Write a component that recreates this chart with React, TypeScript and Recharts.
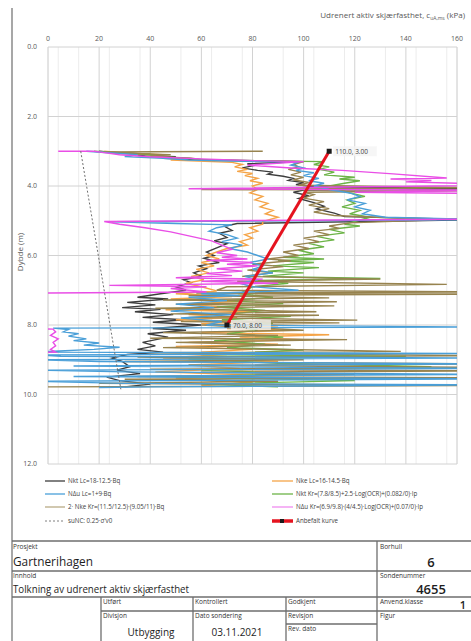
import React from 'react';
import { LineChart, Line, XAxis, YAxis, CartesianGrid } from 'recharts';

type P = [number, number];

const xTicks = [0, 20, 40, 60, 80, 100, 120, 140, 160];
const yTicks = [0, 2, 4, 6, 8, 10, 12];
const minorStep = 4;

// [value kPa, depth m]
const nktLc: P[] = [[20,3.0],[28,3.05],[40,3.08],[35,3.12],[50,3.16],[45,3.2],[58,3.24],[100,3.3],[78,3.36],[80,3.42],[76,3.48],[82,3.55],[88,3.6],[86,3.66],[92,3.72],[96,3.78],[94,3.84],[100,3.9],[97,3.96],[104,4.02],[170,4.08],[100,4.12],[96,4.18],[102,4.28],[98,4.36],[104,4.48],[108,4.58],[105,4.66],[112,4.78],[116,4.88],[170,4.97],[74,5.08],[69,5.16],[72,5.28],[67,5.36],[70,5.48],[65,5.58],[70,5.66],[66,5.78],[62,5.9],[65,6.0],[61,6.08],[67,6.2],[59,6.3],[62,6.38],[57,6.5],[60,6.6],[53,6.7],[56,6.78],[50,6.9],[54,7.0],[44,7.1],[35,7.2],[47,7.25],[31,7.35],[42,7.42],[29,7.5],[44,7.55],[34,7.62],[49,7.7],[37,7.78],[53,7.85],[41,7.92],[60,8.0],[41,8.1],[54,8.15],[39,8.25],[47,8.35],[37,8.5],[42,8.6],[35,8.7],[45,8.78],[31,8.85],[25,8.95],[29,9.05],[32,9.2],[27,9.3],[36,9.4],[23,9.5],[28,9.6],[40,9.7],[30,9.78]];

const nkeLc: P[] = [[22,3.0],[30,3.05],[45,3.1],[38,3.15],[52,3.2],[48,3.25],[72,3.32],[76,3.38],[73,3.45],[78,3.52],[74,3.58],[80,3.64],[77,3.7],[82,3.78],[79,3.85],[84,3.92],[80,4.0],[82,4.1],[79,4.2],[84,4.3],[81,4.4],[86,4.5],[83,4.6],[88,4.7],[85,4.8],[90,4.9],[84,5.02],[84,5.1],[79,5.2],[82,5.3],[77,5.4],[80,5.5],[75,5.6],[78,5.7],[70,5.8],[66,5.9],[62,6.0],[67,6.1],[60,6.2],[65,6.3],[58,6.4],[63,6.5],[56,6.6],[61,6.7],[54,6.8],[60,6.9],[66,7.02],[50,7.1],[72,7.18],[48,7.25],[76,7.32],[52,7.4],[70,7.48],[46,7.56],[80,7.62],[55,7.7],[74,7.78],[50,7.85],[85,7.9],[60,7.96],[90,8.02],[70,8.1],[95,8.15],[60,8.22],[110,8.28],[75,8.35],[100,8.42],[55,8.5],[90,8.55],[50,8.62],[80,8.7],[60,8.78],[70,8.85],[45,8.95],[90,9.05],[55,9.15],[75,9.25],[42,9.35],[85,9.45],[50,9.55],[80,9.65],[60,9.75]];

const nduLc: P[] = [[15,3.0],[25,3.05],[35,3.1],[30,3.15],[45,3.2],[55,3.25],[98,3.32],[95,3.4],[100,3.48],[97,3.55],[104,3.62],[100,3.7],[106,3.78],[102,3.85],[108,3.92],[104,4.0],[110,4.1],[118,4.2],[122,4.3],[117,4.4],[124,4.5],[120,4.6],[126,4.7],[123,4.8],[132,4.9],[170,4.97],[25,5.03],[50,5.08],[72,5.12],[66,5.2],[63,5.3],[70,5.4],[74,5.5],[68,5.6],[76,5.7],[71,5.8],[78,5.9],[82,6.0],[86,6.1],[79,6.2],[84,6.3],[80,6.4],[88,6.5],[77,6.6],[82,6.7],[75,6.8],[80,6.9],[98,7.0],[60,7.1],[75,7.15],[55,7.2],[70,7.3],[50,7.4],[65,7.5],[48,7.6],[72,7.7],[52,7.8],[68,7.9],[62,8.0],[170,8.06],[2,8.09],[8,8.13],[6,8.2],[12,8.25],[8,8.32],[15,8.4],[10,8.45],[20,8.52],[14,8.58],[28,8.64],[18,8.7],[-5,8.78],[170,8.82],[-5,8.86],[5,8.9],[170,8.95],[-5,9.0],[20,9.05],[170,9.12],[10,9.18],[170,9.25],[0,9.3],[30,9.35],[170,9.42],[10,9.48],[170,9.55],[-5,9.62],[30,9.68],[170,9.72],[40,9.78],[20,9.8]];

const nktKr: P[] = [[18,3.0],[30,3.05],[42,3.1],[38,3.15],[55,3.2],[60,3.25],[108,3.3],[104,3.38],[110,3.45],[106,3.52],[112,3.6],[108,3.68],[120,3.75],[114,3.8],[122,3.85],[116,3.92],[110,4.0],[114,4.1],[118,4.2],[124,4.3],[117,4.4],[120,4.5],[115,4.6],[122,4.7],[118,4.8],[126,4.9],[116,5.1],[122,5.15],[110,5.25],[116,5.35],[105,5.45],[112,5.55],[102,5.65],[108,5.75],[98,5.85],[104,5.95],[92,6.05],[108,6.1],[90,6.15],[104,6.2],[88,6.3],[106,6.35],[86,6.45],[100,6.5],[84,6.6],[130,6.66],[82,6.72],[94,6.8],[80,6.9],[75,7.1],[88,7.2],[70,7.3],[92,7.38],[66,7.48],[85,7.58],[72,7.68],[95,7.75],[68,7.85],[88,7.95],[75,8.05],[82,8.15],[70,8.25],[92,8.35],[65,8.45],[85,8.55],[70,8.65],[100,8.72],[60,8.85],[140,8.9],[55,8.98],[90,9.1],[150,9.2],[60,9.3],[100,9.4],[50,9.5],[120,9.6],[60,9.7],[90,9.78]];

const nkeKr: P[] = [[84,3.0],[22,3.02],[32,3.06],[48,3.1],[40,3.14],[56,3.2],[62,3.26],[100,3.3],[96,3.38],[98,3.45],[94,3.52],[99,3.6],[95,3.68],[100,3.75],[96,3.82],[102,3.9],[98,3.98],[170,4.05],[60,4.1],[170,4.13],[100,4.18],[104,4.25],[100,4.35],[108,4.45],[102,4.55],[110,4.65],[104,4.75],[112,4.85],[152,4.97],[118,5.06],[110,5.15],[114,5.22],[104,5.3],[110,5.4],[100,5.5],[106,5.6],[96,5.7],[102,5.8],[92,5.9],[98,6.0],[86,6.1],[95,6.15],[80,6.25],[92,6.32],[78,6.42],[88,6.5],[76,6.6],[130,6.68],[74,6.74],[156,6.83],[70,6.9],[66,7.0],[170,7.05],[58,7.08],[170,7.11],[55,7.15],[110,7.22],[45,7.28],[113,7.33],[50,7.4],[112,7.45],[42,7.52],[105,7.62],[48,7.68],[106,7.72],[55,7.78],[121,7.86],[52,7.9],[114,7.94],[60,8.0],[100,8.15],[45,8.22],[90,8.3],[40,8.38],[117,8.42],[50,8.5],[95,8.58],[45,8.65],[138,8.76],[40,8.8],[170,8.88],[35,8.92],[100,9.0],[30,9.05],[170,9.12],[55,9.16],[170,9.22],[40,9.27],[170,9.32],[60,9.36],[120,9.42],[35,9.48],[170,9.52],[30,9.56],[90,9.62],[20,9.68],[170,9.74],[0,9.78]];

const nduKr: P[] = [[4,3.0],[18,3.0],[22,3.04],[28,3.1],[40,3.16],[60,3.22],[80,3.27],[100,3.3],[78,3.4],[95,3.48],[115,3.55],[135,3.65],[156,3.77],[134,3.8],[150,3.84],[140,3.88],[160,3.92],[175,3.98],[55,4.08],[175,4.12],[120,4.18],[175,4.22],[190,4.6],[180,4.95],[22,5.02],[28,5.1],[38,5.2],[48,5.32],[56,5.45],[64,5.58],[68,5.7],[72,5.82],[66,5.92],[74,6.0],[68,6.05],[78,6.1],[62,6.14],[80,6.2],[70,6.25],[82,6.3],[66,6.38],[76,6.45],[62,6.52],[72,6.58],[50,6.64],[84,6.68],[60,6.74],[90,6.8],[24,6.86],[62,6.9],[48,6.95],[62,7.05],[-5,7.08],[-20,7.5],[-8,8.1],[2,8.12],[3,8.2],[1,8.3],[4,8.4],[2,8.5],[3,8.6],[1,8.7],[3,8.78],[-10,8.8],[-20,9.8]];

const suNC: P[] = [[12.8,3.0],[28.5,9.85]];
const anbefalt: P[] = [[110,3.0],[70,8.0]];

const toPts = (a: P[]) => a.map(([x, y]) => ({ x, y }));

const seriesDefs = [
  { key: 'nktLc', data: nktLc, color: '#3d3d3d' },
  { key: 'nkeLc', data: nkeLc, color: '#f5a447' },
  { key: 'nktKr', data: nktKr, color: '#6cb447' },
  { key: 'nkeKr', data: nkeKr, color: '#97834f' },
  { key: 'nduLc', data: nduLc, color: '#4a9fd8' },
  { key: 'nduKr', data: nduKr, color: '#e94ee6' },
];

const minorX: number[] = [];
for (let v = 0; v <= 160; v += minorStep) if (v % 20 !== 0) minorX.push(v);

const FONT = "'Open Sans', 'Liberation Sans', sans-serif";
const anbPts = toPts(anbefalt);

const RedDot = (props: any) => {
  const { cx, cy, index } = props;
  return <rect key={'d' + index} x={cx - 2.5} y={cy - 2.5} width={5} height={5} fill="#1a1a1a" />;
};

const RedLabel = (props: any) => {
  const { x, y, index } = props;
  const p = anbPts[index];
  if (!p) return null;
  const txt = `${p.x.toFixed(1)}, ${p.y.toFixed(2)}`;
  return (
    <g key={'l' + index}>
      <rect x={x + 4} y={y - 5} width={txt.length * 3.6 + 4} height={10} fill="#f4f4f4" fillOpacity={0.8} />
      <text x={x + 6} y={y + 2.5} fontSize={6.5} fill="#404040" fontFamily={FONT}>{txt}</text>
    </g>
  );
};

const legendLeft = [
  { color: '#3d3d3d', text: 'Nkt Lc=18-12.5·Bq', dash: undefined as string | undefined, w: 1.3 },
  { color: '#4a9fd8', text: 'NΔu Lc=1+9·Bq', dash: undefined, w: 1.3 },
  { color: '#b9aa85', text: '2· Nke Kr=(11.5/12.5)·(9.05/11)·Bq', dash: undefined, w: 1.3 },
  { color: '#7f7f7f', text: 'suNC: 0.25·σ\'v0', dash: '2 2', w: 1 },
];
const legendRight = [
  { color: '#f5a447', text: 'Nke Lc=16-14.5·Bq', w: 1.3 },
  { color: '#6cb447', text: 'Nkt Kr=(7.8/8.5)+2.5·Log(OCR)+(0.082/0)·Ip', w: 1.3 },
  { color: '#f08cf0', text: 'NΔu Kr=(6.9/9.8)·(4/4.5)·Log(OCR)+(0.07/0)·Ip', w: 1.3 },
  { color: '#e5131f', text: 'Anbefalt kurve', w: 3.5 },
];
const legendRows = [481, 494, 507, 521];

const small = { fontSize: 6.5, fill: '#333', fontFamily: FONT } as const;

export default function App() {
  return (
    <div style={{ position: 'absolute', left: 0, top: 0, width: 471, height: 641, background: '#fff', overflow: 'hidden', fontFamily: FONT }}>
      <div style={{ position: 'absolute', left: 0, top: 0 }}>
        <LineChart width={471} height={480} margin={{ top: 27, right: 14, bottom: 16, left: 0 }}>
          <XAxis xAxisId="minor" type="number" dataKey="x" domain={[0, 160]} ticks={minorX} hide allowDataOverflow />
          <CartesianGrid xAxisId="minor" horizontal={false} stroke="#ececec" strokeWidth={1} />
          <CartesianGrid stroke="#d2d2d2" strokeWidth={1} />
          <XAxis type="number" dataKey="x" orientation="top" domain={[0, 160]} ticks={xTicks} interval={0}
            allowDataOverflow height={20} tickSize={0} tickMargin={6} axisLine={false} tickLine={false}
            tick={{ fontSize: 7, fill: '#595959', fontFamily: FONT }} />
          <YAxis type="number" domain={[0, 12]} reversed ticks={yTicks} interval={0} allowDataOverflow width={48}
            tickSize={0} tickMargin={11} axisLine={false} tickLine={false}
            tick={{ fontSize: 7, fill: '#595959', fontFamily: FONT }} tickFormatter={(v: number) => v.toFixed(1)} />
          {seriesDefs.map((s) => (
            <Line key={s.key} data={toPts(s.data)} dataKey="y" type="linear" stroke={s.color} strokeWidth={1.4}
              dot={false} activeDot={false} isAnimationActive={false} />
          ))}
          <Line data={toPts(suNC)} dataKey="y" type="linear" stroke="#6f6f6f" strokeWidth={1} strokeDasharray="2 2"
            dot={false} activeDot={false} isAnimationActive={false} />
          <Line data={anbPts} dataKey="y" type="linear" stroke="#e5131f" strokeWidth={3}
            dot={RedDot} label={RedLabel} activeDot={false} isAnimationActive={false} />
        </LineChart>
      </div>
      <svg width={471} height={641} style={{ position: 'absolute', left: 0, top: 0, pointerEvents: 'none' }}>
        <line x1={12} y1={8} x2={12} y2={641} stroke="#8a8a8a" strokeWidth={1.5} />
        <text x={465} y={18} textAnchor="end" fontSize={8} fill="#595959" fontFamily={FONT}>
          Udrenert aktiv skjærfasthet, c<tspan fontSize={5} dy={2}>uA,ms</tspan><tspan dy={-2}> (kPa)</tspan>
        </text>
        <text x={0} y={0} transform="translate(23,252) rotate(-90)" textAnchor="middle" fontSize={8} fill="#595959" fontFamily={FONT}>Dybde (m)</text>
        {legendLeft.map((l, i) => (
          <g key={'ll' + i}>
            <line x1={45} x2={65} y1={legendRows[i]} y2={legendRows[i]} stroke={l.color} strokeWidth={l.w} strokeDasharray={l.dash} />
            <text x={68} y={legendRows[i] + 2.3} fontSize={6.2} fill="#404040" fontFamily={FONT}>{l.text}</text>
          </g>
        ))}
        {legendRight.map((l, i) => (
          <g key={'lr' + i}>
            <line x1={272} x2={293} y1={legendRows[i]} y2={legendRows[i]} stroke={l.color} strokeWidth={l.w} />
            {i === 3 && <rect x={280} y={legendRows[i] - 2} width={4} height={4} fill="#1a1a1a" />}
            <text x={296} y={legendRows[i] + 2.3} fontSize={6.2} fill="#404040" fontFamily={FONT}>{l.text}</text>
          </g>
        ))}
        <g stroke="#6e6e6e" strokeWidth={1.3}>
          <line x1={12} y1={541} x2={471} y2={541} />
          <line x1={377} y1={541} x2={377} y2={641} />
          <line x1={12} y1={571} x2={471} y2={571} />
          <line x1={12} y1={597} x2={471} y2={597} />
          <line x1={101} y1={597} x2={101} y2={641} />
          <line x1={193} y1={597} x2={193} y2={641} />
          <line x1={286} y1={597} x2={286} y2={641} />
          <line x1={101} y1={611} x2={471} y2={611} />
          <line x1={286} y1={624} x2={377} y2={624} />
        </g>
        <text x={13} y={549} {...small}>Prosjekt</text>
        <text x={13} y={566} fontSize={12.5} fill="#1e1e1e" fontFamily={FONT} textLength={80} lengthAdjust="spacingAndGlyphs">Gartnerihagen</text>
        <text x={380} y={549} {...small}>Borhull</text>
        <text x={431} y={567} textAnchor="middle" fontSize={13} fill="#1e1e1e" fontFamily={FONT} fontWeight={600}>6</text>
        <text x={13} y={578} {...small}>Innhold</text>
        <text x={13} y={593} fontSize={10} fill="#1e1e1e" fontFamily={FONT} textLength={176} lengthAdjust="spacingAndGlyphs">Tolkning av udrenert aktiv skjærfasthet</text>
        <text x={380} y={578} {...small}>Sondenummer</text>
        <text x={431} y={594} textAnchor="middle" fontSize={13} fill="#1e1e1e" fontFamily={FONT} fontWeight={600}>4655</text>
        <text x={103} y={604} {...small}>Utført</text>
        <text x={195} y={604} {...small}>Kontrollert</text>
        <text x={288} y={604} {...small}>Godkjent</text>
        <text x={380} y={604} {...small}>Anvend.klasse</text>
        <text x={463} y={609} textAnchor="middle" fontSize={11} fill="#1e1e1e" fontFamily={FONT} fontWeight={600}>1</text>
        <text x={103} y={618} {...small}>Divisjon</text>
        <text x={195} y={618} {...small}>Dato sondering</text>
        <text x={288} y={618} {...small}>Revisjon</text>
        <text x={380} y={618} {...small}>Figur</text>
        <text x={288} y={631} {...small}>Rev. dato</text>
        <text x={151} y={636} textAnchor="middle" fontSize={10} fill="#1e1e1e" fontFamily={FONT}>Utbygging</text>
        <text x={237} y={636} textAnchor="middle" fontSize={10} fill="#1e1e1e" fontFamily={FONT}>03.11.2021</text>
      </svg>
    </div>
  );
}
